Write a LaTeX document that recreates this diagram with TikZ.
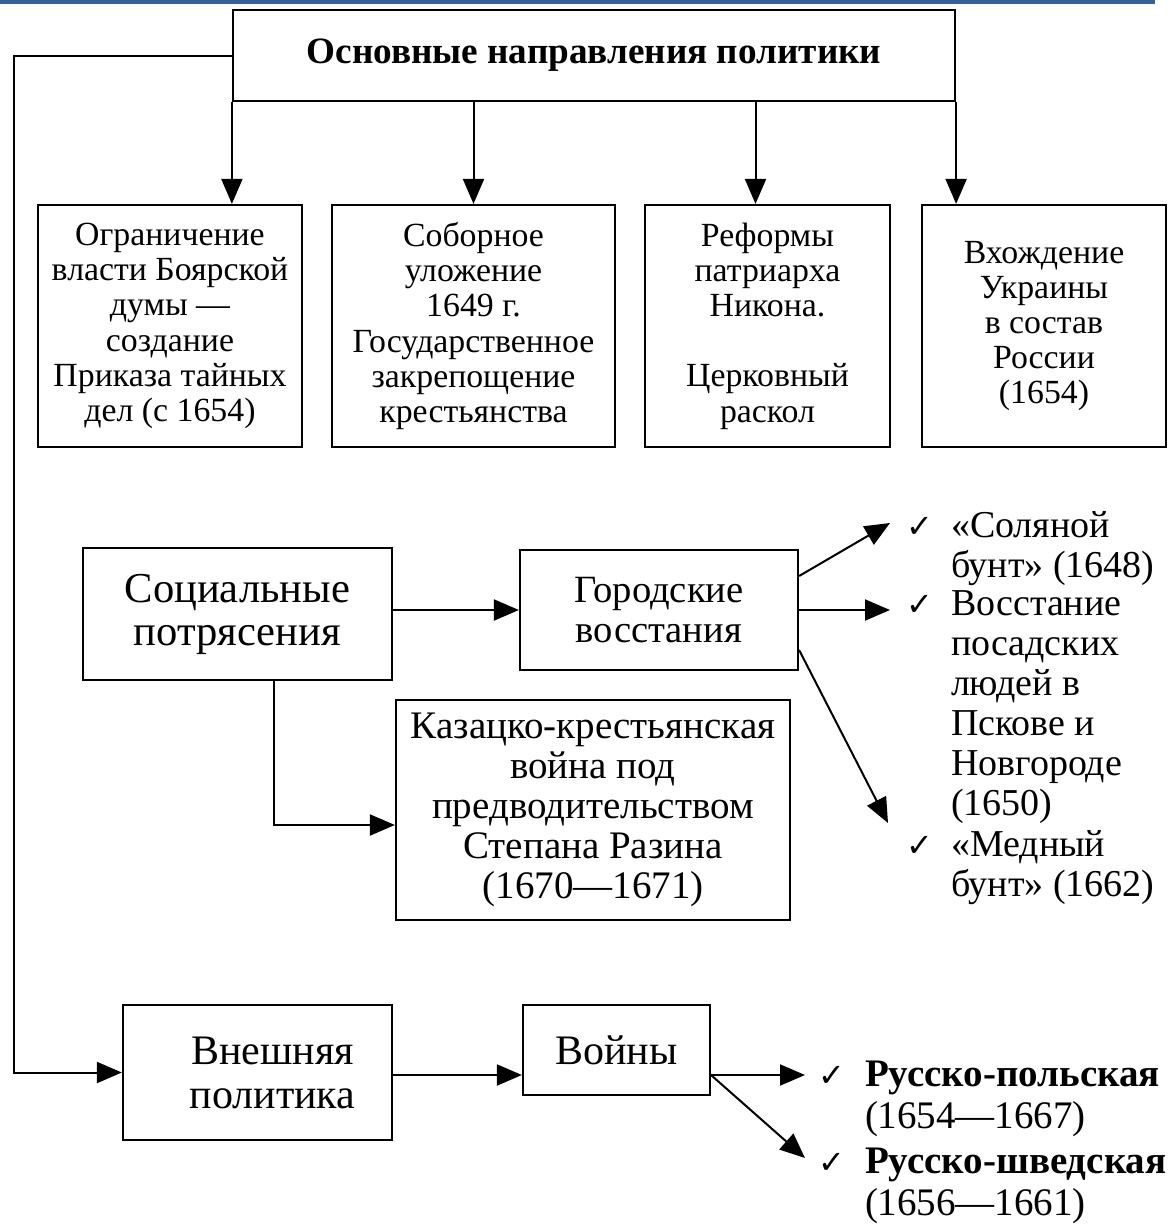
\documentclass[tikz,border=0pt]{standalone}
\usepackage{fontspec}
\setmainfont{Liberation Serif}
\newfontfamily\chkfont{DejaVu Sans}
\usetikzlibrary{arrows.meta}
\definecolor{topblue}{RGB}{58,95,150}
\newcommand{\chk}{{\chkfont\fontsize{16}{16}\selectfont ✓}}

\begin{document}
\begin{tikzpicture}[x=0.5pt,y=-0.5pt,line width=1pt,
  box/.style={draw,line width=1.1pt,inner sep=0pt,align=center},
  small/.style={font=\fontsize{16.9}{17.6}\selectfont},
  big/.style={font=\fontsize{19.3}{20}\selectfont},
  arr/.style={-{Triangle[length=12.5pt,width=10.5pt]}},
  item/.style={anchor=north west,inner sep=0pt,align=left,font=\fontsize{19}{20}\selectfont}]
\useasboundingbox (0,0) rectangle (1168,1226);
\fill [topblue] (0,0) rectangle (1155,4);
\node [box,minimum width=361pt,minimum height=45.5pt,font=\fontsize{18.6}{20}\selectfont\bfseries] (title) at (594,55.5) {Основные направления политики};
\node [box,small,minimum width=132pt,minimum height=121pt] (vlast) at (170,326)
  {Ограничение\\власти Боярской\\думы —\\создание\\Приказа тайных\\дел (с 1654)};
\node [box,small,minimum width=141.5pt,minimum height=121pt] (ulozh) at (473.5,326)
  {Соборное\\уложение\\1649 г.\\Государственное\\закрепощение\\крестьянства};
\node [box,small,minimum width=122.5pt,minimum height=121pt] (nikon) at (767.5,326)
  {Реформы\\патриарха\\Никона.\\[17.6pt]Церковный\\раскол};
\node [box,small,minimum width=122pt,minimum height=121pt] (ukr) at (1044,326)
  {Вхождение\\Украины\\в состав\\России\\(1654)};
\draw [arr] (title.south west) -- (title.south west |- vlast.north);
\draw [arr] (title.south -| ulozh.north) -- (ulozh.north);
\draw [arr] ([xshift=-6pt]title.south -| nikon.north) -- ([xshift=-6pt]nikon.north);
\draw [arr] (title.south east) -- (title.south east |- ukr.north);
\node [box,minimum width=154.5pt,minimum height=66pt,font=\fontsize{21.3}{21.5}\selectfont] (social) at (237.5,614)
  {Социальные\\потрясения};
\node [box,big,minimum width=139pt,minimum height=60pt] (gorod) at (659,610)
  {Городские\\восстания};
\node [box,minimum width=197pt,minimum height=110pt,font=\fontsize{19.5}{20}\selectfont] (kazak) at (593,810)
  {Казацко-крестьянская\\война под\\предводительством\\Степана Разина\\(1670—1671)};
\draw [arr] (social.east |- gorod.east) -- (gorod.east -| gorod.west);
\draw [arr] ([xshift=18pt]social.south) |- ([yshift=-7.5pt]kazak.west);
\coordinate (sol) at (890,523);
\coordinate (psk) at (890,610);
\coordinate (med) at (888,823);
\draw [arr] ([yshift=17pt]gorod.east) -- (sol);
\draw [arr] (gorod.east) -- (psk);
\draw [arr] ([yshift=-20pt]gorod.east) -- (med);
\node [item] (isol) at (950,510) {\llap{\chk\hspace{9pt}}«Соляной\\бунт» (1648)};
\node [item] (ipsk) at (950,590) {\llap{\chk\hspace{9pt}}Восстание\\посадских\\людей в\\Пскове и\\Новгороде\\(1650)};
\node [item] (imed) at (950,829) {\llap{\chk\hspace{9pt}}«Медный\\бунт» (1662)};
\node [box,minimum width=134.5pt,minimum height=67.5pt,font=\fontsize{21}{22}\selectfont] (vnesh) at (257.5,1072.5)
  {\hspace*{15pt}Внешняя\\\hspace*{15pt}политика};
\node [box,minimum width=93.5pt,minimum height=45pt,font=\fontsize{21}{22}\selectfont] (voiny) at (616.5,1050) {Войны};
\draw [arr] (title.west) -- ++(-218,0) |- (vnesh.west);
\draw [arr] (vnesh.east |- 0,1075) -- (voiny.west |- 0,1075);
\coordinate (vst) at (711,1075);
\coordinate (pol) at (805,1075);
\coordinate (shv) at (805,1158);
\draw [arr] (vst) -- (pol);
\draw [arr] (vst) -- (shv);
\node [item,font=\fontsize{19.5}{21}\selectfont] (ipol) at (864,1060) {\llap{\chk\hspace{10pt}}\textbf{Русско-польская}\\(1654—1667)};
\node [item,font=\fontsize{19.5}{21}\selectfont] (ishv) at (864,1147) {\llap{\chk\hspace{10pt}}\textbf{Русско-шведская}\\(1656—1661)};
\end{tikzpicture}
\end{document}
